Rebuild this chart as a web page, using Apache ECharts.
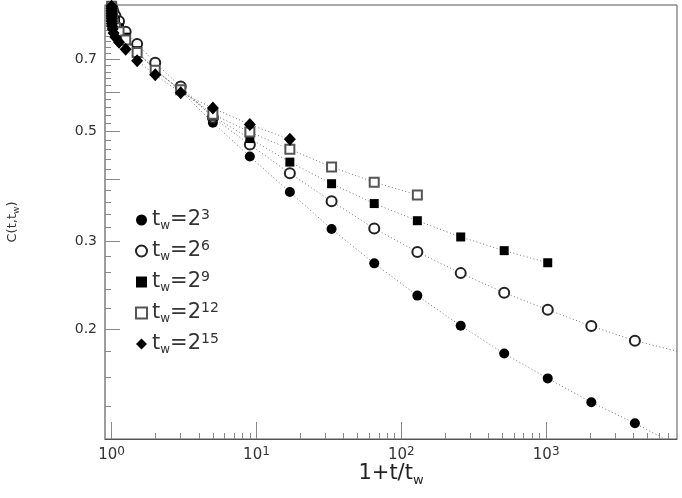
<!DOCTYPE html>
<html lang="en">
<head>
    <meta charset="UTF-8">
    <title>C(t,tw)</title>
    <script src="https://cdn.jsdelivr.net/npm/echarts@6.0.0/dist/echarts.min.js"></script>
    <style>
        body { margin: 0; background: #fff; }
    </style>
</head>
<body>
<div id="main" style="width: 682px;height:498px;"></div>
</body>
<script type="text/javascript">

    // waiting time tw = 2^twExp, times t = 2^0, 2^1, ... so x = 1 + t/tw
    var twExp = [3, 6, 9, 12, 15];
    var C_tw3 = [0.815, 0.775, 0.722, 0.668, 0.604, 0.521, 0.4453, 0.3776, 0.318, 0.2712,
        0.2335, 0.203, 0.1784, 0.159, 0.1423, 0.1291];
    var C_tw6 = [0.885, 0.87, 0.855, 0.835, 0.795, 0.751, 0.688, 0.6165, 0.534, 0.4708,
        0.4119, 0.3617, 0.319, 0.286, 0.2592, 0.2366, 0.2186, 0.2027, 0.1894];
    var C_tw9 = [0.89, 0.88, 0.87, 0.86, 0.85, 0.835, 0.81, 0.775, 0.728, 0.663,
        0.607, 0.537, 0.4841, 0.434, 0.3926, 0.358, 0.3306, 0.3066, 0.2877, 0.272];
    var C_tw12 = [0.895, 0.885, 0.875, 0.865, 0.855, 0.845, 0.835, 0.825, 0.81, 0.795,
        0.765, 0.722, 0.665, 0.607, 0.542, 0.4991, 0.4606, 0.4243, 0.3953, 0.3727];
    var C_tw15 = [0.895, 0.885, 0.875, 0.865, 0.855, 0.845, 0.835, 0.825, 0.815, 0.805,
        0.79, 0.775, 0.757, 0.733, 0.695, 0.651, 0.599, 0.558, 0.5165, 0.4826];
    // where the dotted fit curves leave the frame
    var fitEnd_tw3 = [8000, 0.1165];
    var fitEnd_tw6 = [8000, 0.1804];

    var xMajorTicks = [1, 10, 100, 1000];
    var xMinorTicks = [2, 3, 4, 5, 6, 7, 8, 9, 20, 30, 40, 50, 60, 70, 80, 90,
        200, 300, 400, 500, 600, 700, 800, 900, 2000, 3000, 4000, 5000, 6000, 7000];
    var yLabels = [0.2, 0.3, 0.5, 0.7];
    var yMajorTicks = [0.2, 0.3, 0.4, 0.5, 0.6, 0.7, 0.8];
    var yMinorTicks = [0.14, 0.16, 0.18, 0.22, 0.24, 0.26, 0.28, 0.32, 0.34, 0.36, 0.38,
        0.42, 0.44, 0.46, 0.48, 0.52, 0.54, 0.56, 0.58, 0.62, 0.64, 0.66, 0.68,
        0.72, 0.74, 0.76, 0.78, 0.82, 0.84, 0.86, 0.88];

    var font = 'DejaVu Sans';

    function makeData(cs, tw, tail) {
        var d = cs.map(function (c, k) {
            return [1 + Math.pow(2, k - tw), c];
        });
        if (tail) d.push({value: tail, symbol: 'none'});
        return d;
    }

    var dotted = {color: '#777', width: 1, type: [1, 2.5]};

    function xAxisBase(extra) {
        var a = {
            type: 'log', logBase: 10, min: 0.9, max: 8000, position: 'bottom',
            splitLine: {show: false}, nameMoveOverlap: false
        };
        for (var k in extra) a[k] = extra[k];
        return a;
    }

    function yAxisBase(extra) {
        var a = {
            type: 'log', logBase: 10, min: 0.12, max: 0.9, position: 'left',
            splitLine: {show: false}, nameMoveOverlap: false
        };
        for (var k in extra) a[k] = extra[k];
        return a;
    }

    var myChart = echarts.init(document.getElementById('main'));
    var option = {
        animation: false,
        backgroundColor: '#fff',
        grid: {
            left: 105, right: 5, top: 5, bottom: 59,
            show: true, borderColor: '#555', borderWidth: 1,
            outerBoundsMode: 'none'
        },
        legend: {
            orient: 'vertical',
            left: 130,
            top: 203,
            itemWidth: 11,
            itemHeight: 11,
            itemGap: 7,
            data: [
                {name: 'tw3', icon: 'circle'},
                {name: 'tw6', icon: 'emptyCircle'},
                {name: 'tw9', icon: 'rect'},
                {name: 'tw12', icon: 'emptyRect'},
                {name: 'tw15', icon: 'diamond'}
            ],
            formatter: function (name) {
                return 't{sub|w}=2{sup|' + name.slice(2) + '}';
            },
            textStyle: {
                fontFamily: font, fontSize: 21, lineHeight: 24, color: '#333',
                rich: {
                    sub: {fontFamily: font, fontSize: 12, lineHeight: 12, verticalAlign: 'bottom', color: '#333'},
                    sup: {fontFamily: font, fontSize: 14, lineHeight: 12, verticalAlign: 'top', color: '#333'}
                }
            }
        },
        xAxis: [
            xAxisBase({
                name: '1+t/t{sub|w}',
                nameLocation: 'middle',
                nameGap: 22,
                nameTextStyle: {
                    fontFamily: font, fontSize: 21, color: '#222', lineHeight: 26,
                    rich: {sub: {fontFamily: font, fontSize: 13, lineHeight: 14, verticalAlign: 'bottom', color: '#222'}}
                },
                axisLine: {lineStyle: {color: '#555', width: 1}},
                axisTick: {inside: true, length: 17, lineStyle: {color: '#888'}, customValues: xMajorTicks},
                axisLabel: {
                    customValues: xMajorTicks,
                    margin: 7,
                    fontFamily: font, fontSize: 15, color: '#333', lineHeight: 18,
                    formatter: function (v) {
                        return '10{sup|' + Math.round(Math.log10(v)) + '}';
                    },
                    rich: {sup: {fontFamily: font, fontSize: 12, lineHeight: 10, verticalAlign: 'top', color: '#333'}}
                }
            }),
            xAxisBase({
                axisLine: {show: false},
                axisTick: {inside: true, length: 6, lineStyle: {color: '#888'}, customValues: xMinorTicks},
                axisLabel: {show: false}
            })
        ],
        yAxis: [
            yAxisBase({
                name: 'C(t,t{sub|w})',
                nameLocation: 'middle',
                nameRotate: 90,
                nameGap: 84,
                nameTextStyle: {
                    fontFamily: font, fontSize: 13, color: '#333', lineHeight: 16,
                    rich: {sub: {fontFamily: font, fontSize: 9, lineHeight: 9, verticalAlign: 'bottom', color: '#333'}}
                },
                axisLine: {lineStyle: {color: '#999', width: 1.5}},
                axisTick: {inside: true, length: 15, lineStyle: {color: '#888'}, customValues: yMajorTicks},
                axisLabel: {
                    customValues: yLabels,
                    margin: 8,
                    fontFamily: font, fontSize: 14, color: '#333',
                    formatter: function (v) {
                        return v.toFixed(1);
                    }
                }
            }),
            yAxisBase({
                axisLine: {show: false},
                axisTick: {inside: true, length: 6, lineStyle: {color: '#888'}, customValues: yMinorTicks},
                axisLabel: {show: false}
            })
        ],
        series: [
            {
                name: 'tw3', type: 'line', data: makeData(C_tw3, twExp[0], fitEnd_tw3),
                symbol: 'circle', symbolSize: 10,
                itemStyle: {color: '#000'}, lineStyle: dotted
            },
            {
                name: 'tw6', type: 'line', data: makeData(C_tw6, twExp[1], fitEnd_tw6),
                symbol: 'emptyCircle', symbolSize: 10,
                itemStyle: {color: '#222', borderWidth: 1.1}, lineStyle: dotted
            },
            {
                name: 'tw9', type: 'line', data: makeData(C_tw9, twExp[2]),
                symbol: 'rect', symbolSize: 9,
                itemStyle: {color: '#000'}, lineStyle: dotted
            },
            {
                name: 'tw12', type: 'line', data: makeData(C_tw12, twExp[3]),
                symbol: 'emptyRect', symbolSize: 9,
                itemStyle: {color: '#555', borderWidth: 1.1}, lineStyle: dotted
            },
            {
                name: 'tw15', type: 'line', data: makeData(C_tw15, twExp[4]),
                symbol: 'diamond', symbolSize: [12, 13],
                itemStyle: {color: '#000'}, lineStyle: dotted
            }
        ]
    };
    myChart.setOption(option);

</script>
</html>
